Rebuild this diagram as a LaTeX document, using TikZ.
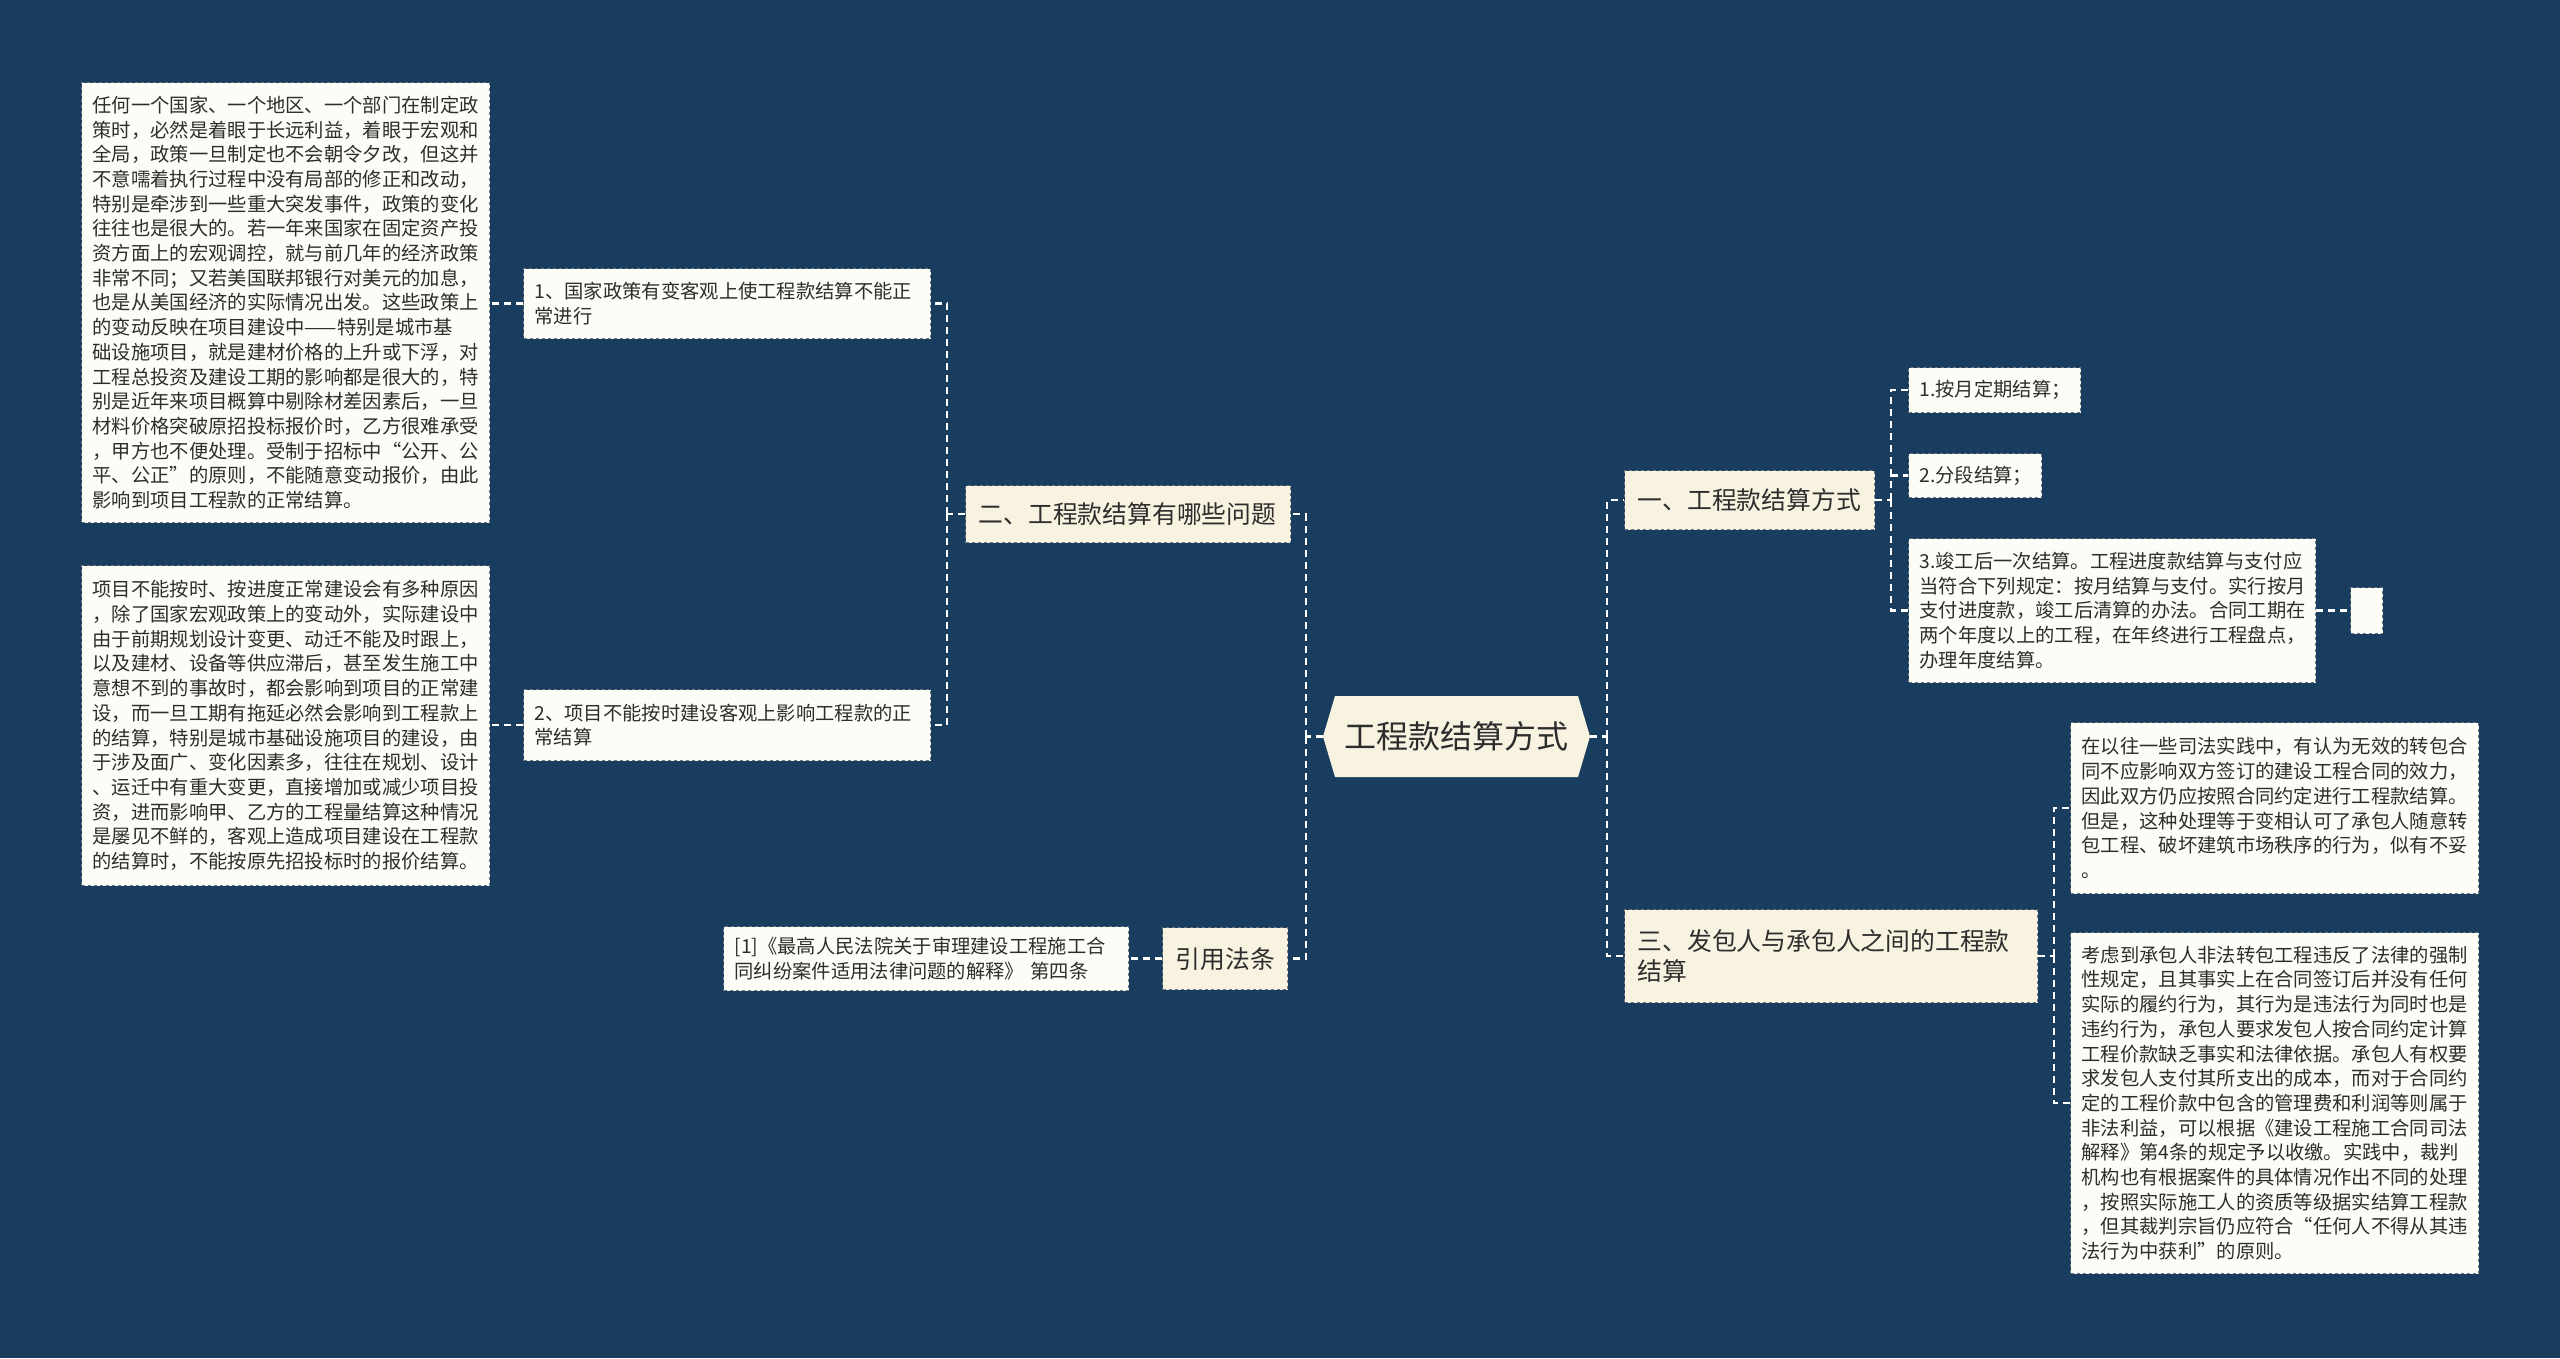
\documentclass[tikz,border=0pt]{standalone}
\usepackage{fontspec}
\usepackage{tikz}
\newfontfamily\cjk{Noto Sans CJK SC}
\definecolor{navy}{RGB}{24,61,94}
\definecolor{paper}{RGB}{253,253,247}
\definecolor{cream}{RGB}{248,243,224}
\definecolor{ink}{RGB}{45,45,45}
\definecolor{rim}{RGB}{110,118,126}

\begin{document}
\begin{tikzpicture}[x=1pt,y=-1pt,
  leaf/.style={draw=rim,dashed,line width=1.2pt,fill=paper,text=ink,anchor=north west,
    align=left,inner xsep=11pt,inner ysep=0pt,font=\cjk\fontsize{19.3}{24.7}\selectfont},
  branch/.style={leaf,fill=cream,inner xsep=13pt,font=\cjk\fontsize{24.8}{30}\selectfont},
  link/.style={draw=white,line width=2.5pt,dash pattern=on 7pt off 5pt}]
\useasboundingbox (0,0) rectangle (2560,1358);
\fill[navy] (0,0) rectangle (2560,1358);
% root:
\fill[cream] (1323,736.5) -- (1335,696) -- (1578,696) -- (1590,736.5) -- (1578,777) -- (1335,777) -- cycle;
\node[text=ink,font=\cjk\fontsize{32}{38}\selectfont,minimum width=267pt,minimum height=81pt,inner sep=0pt]
  (root) at (1456.5,736.5) {工程款结算方式};
% left side:
\node[branch,text width=299pt,minimum height=57pt] (brTwo) at (965,485) {二、工程款结算有哪些问题};
\node[leaf,text width=385pt,minimum height=70pt] (itemA) at (523,268)
  {1、国家政策有变客观上使工程款结算不能正\\常进行};
\node[leaf,text width=385pt,minimum height=71pt] (itemB) at (523,689)
  {2、项目不能按时建设客观上影响工程款的正\\常结算};
\node[leaf,text width=386pt,minimum height=440pt] (blkA) at (81,82)
  {任何一个国家、一个地区、一个部门在制定政\\
   策时，必然是着眼于长远利益，着眼于宏观和\\
   全局，政策一旦制定也不会朝令夕改，但这并\\
   不意嚅着执行过程中没有局部的修正和改动，\\
   特别是牵涉到一些重大突发事件，政策的变化\\
   往往也是很大的。若一年来国家在固定资产投\\
   资方面上的宏观调控，就与前几年的经济政策\\
   非常不同；又若美国联邦银行对美元的加息，\\
   也是从美国经济的实际情况出发。这些政策上\\
   的变动反映在项目建设中——特别是城市基\\
   础设施项目，就是建材价格的上升或下浮，对\\
   工程总投资及建设工期的影响都是很大的，特\\
   别是近年来项目概算中剔除材差因素后，一旦\\
   材料价格突破原招投标报价时，乙方很难承受\\
   ，甲方也不便处理。受制于招标中“公开、公\\
   平、公正”的原则，不能随意变动报价，由此\\
   影响到项目工程款的正常结算。};
\node[leaf,text width=386pt,minimum height=320pt] (blkB) at (81,565)
  {项目不能按时、按进度正常建设会有多种原因\\
   ，除了国家宏观政策上的变动外，实际建设中\\
   由于前期规划设计变更、动迁不能及时跟上，\\
   以及建材、设备等供应滞后，甚至发生施工中\\
   意想不到的事故时，都会影响到项目的正常建\\
   设，而一旦工期有拖延必然会影响到工程款上\\
   的结算，特别是城市基础设施项目的建设，由\\
   于涉及面广、变化因素多，往往在规划、设计\\
   、运迁中有重大变更，直接增加或减少项目投\\
   资，进而影响甲、乙方的工程量结算这种情况\\
   是屡见不鲜的，客观上造成项目建设在工程款\\
   的结算时，不能按原先招投标时的报价结算。};
\node[branch,text width=99pt,minimum height=62pt] (refNode) at (1162,927) {引用法条};
\node[leaf,text width=383pt,minimum height=64pt] (refText) at (723,926)
  {[1]《最高人民法院关于审理建设工程施工合\\同纠纷案件适用法律问题的解释》~第四条};
% right side:
\node[branch,text width=224pt,minimum height=59pt] (brOne) at (1624,470) {一、工程款结算方式};
\node[leaf,text width=150pt,minimum height=45pt] (subA) at (1908,367) {1.按月定期结算；};
\node[leaf,text width=111pt,minimum height=44pt] (subB) at (1908,453) {2.分段结算；};
\node[leaf,text width=385pt,minimum height=144pt] (subC) at (1908,538)
  {3.竣工后一次结算。工程进度款结算与支付应\\
   当符合下列规定：按月结算与支付。实行按月\\
   支付进度款，竣工后清算的办法。合同工期在\\
   两个年度以上的工程，在年终进行工程盘点，\\
   办理年度结算。};
\node[leaf,text width=10pt,minimum height=46pt] (blank) at (2350,587) {};
\node[branch,text width=387pt,minimum height=93pt] (brThree) at (1624,909)
  {三、发包人与承包人之间的工程款\\结算};
\node[leaf,text width=386pt,minimum height=171pt] (blkC) at (2070,722)
  {在以往一些司法实践中，有认为无效的转包合\\
   同不应影响双方签订的建设工程合同的效力，\\
   因此双方仍应按照合同约定进行工程款结算。\\
   但是，这种处理等于变相认可了承包人随意转\\
   包工程、破坏建筑市场秩序的行为，似有不妥\\
   。};
\node[leaf,text width=386pt,minimum height=341pt] (blkD) at (2070,932)
  {考虑到承包人非法转包工程违反了法律的强制\\
   性规定，且其事实上在合同签订后并没有任何\\
   实际的履约行为，其行为是违法行为同时也是\\
   违约行为，承包人要求发包人按合同约定计算\\
   工程价款缺乏事实和法律依据。承包人有权要\\
   求发包人支付其所支出的成本，而对于合同约\\
   定的工程价款中包含的管理费和利润等则属于\\
   非法利益，可以根据《建设工程施工合同司法\\
   解释》第4条的规定予以收缴。实践中，裁判\\
   机构也有根据案件的具体情况作出不同的处理\\
   ，按照实际施工人的资质等级据实结算工程款\\
   ，但其裁判宗旨仍应符合“任何人不得从其违\\
   法行为中获利”的原则。};
% connectors:
\draw[link] (root.west) -- ++(-17,0) coordinate (spL);
\draw[link] (spL) |- (brTwo.east);
\draw[link] (spL) |- (refNode.east);
\draw[link] (refNode.west) -- (refNode.west -| refText.east);
\draw[link] (brTwo.west) -- ++(-18,0) coordinate (spTwo);
\draw[link] (spTwo) |- (itemA.east);
\draw[link] (spTwo) |- (itemB.east);
\draw[link] (itemA.west) -- (itemA.west -| blkA.east);
\draw[link] (itemB.west) -- (itemB.west -| blkB.east);
\draw[link] (root.east) -- ++(17,0) coordinate (spR);
\draw[link] (spR) |- (brOne.west);
\draw[link] (spR) |- (brThree.west);
\draw[link] (brOne.east) -- ++(16,0) coordinate (spOne);
\draw[link] (spOne) |- (subA.west);
\draw[link] (spOne) |- (subB.west);
\draw[link] (spOne) |- (subC.west);
\draw[link] (subC.east) -- (subC.east -| blank.west);
\draw[link] (brThree.east) -- ++(16,0) coordinate (spThree);
\draw[link] (spThree) |- (blkC.west);
\draw[link] (spThree) |- (blkD.west);
\end{tikzpicture}
\end{document}
